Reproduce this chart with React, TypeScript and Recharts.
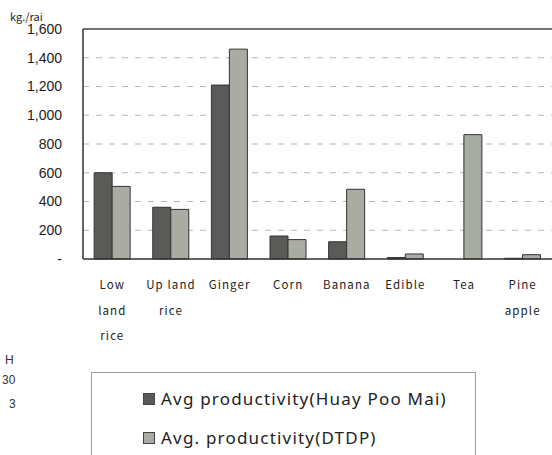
import {
  BarChart,
  Bar,
  XAxis,
  YAxis,
  CartesianGrid,
  ReferenceLine,
} from "recharts";

const crops = ["Low\nland\nrice", "Up land\nrice", "Ginger", "Corn", "Banana", "Edible", "Tea", "Pine\napple"];
const huayPooMai = [600, 360, 1210, 160, 120, 10, 0, 5];
const dtdp = [505, 345, 1460, 135, 485, 35, 865, 30];
const yTicks = [0, 200, 400, 600, 800, 1000, 1200, 1400, 1600];

const seriesNames = ["Avg productivity(Huay Poo Mai)", "Avg. productivity(DTDP)"];
const seriesColors = ["#5a5b58", "#a9aca2"];

const data = crops.map((c, i) => ({ crop: c, hpm: huayPooMai[i], dtdp: dtdp[i] }));

function CropTick(props: any) {
  const { x, y, payload } = props;
  const lines = String(payload.value).split("\n");
  return (
    <text
      x={x}
      y={y}
      textAnchor="middle"
      fill="#222"
      fontSize={11.5}
      fontFamily="'Noto Sans CJK JP', sans-serif"
      letterSpacing={1.1}
    >
      {lines.map((l, i) => (
        <tspan key={i} x={x} dy={i === 0 ? 22 : 25.5}>
          {l}
        </tspan>
      ))}
    </text>
  );
}

function BoxLegend() {
  return (
    <div
      style={{
        position: "absolute",
        left: 91,
        top: 372,
        width: 385,
        height: 90,
        border: "1px solid #a0a0a0",
        boxSizing: "border-box",
        paddingTop: 6,
        paddingLeft: 51,
        fontFamily: "'Noto Sans', sans-serif",
        fontSize: 17,
        letterSpacing: 1.2,
        color: "#222",
      }}
    >
      {seriesNames.map((n, i) => (
        <div key={n} style={{ display: "flex", alignItems: "center", height: 39 }}>
          <span
            style={{
              display: "inline-block",
              width: 12,
              height: 12,
              background: seriesColors[i],
              border: "1px solid #444",
              boxSizing: "border-box",
              marginRight: 6,
            }}
          />
          {n}
        </div>
      ))}
    </div>
  );
}

export default function App() {
  const side = { position: "absolute" as const, fontFamily: "'Liberation Sans', sans-serif", fontSize: 12, color: "#333" };
  return (
    <div style={{ position: "relative", width: 552, height: 455, background: "#fff", overflow: "hidden" }}>
      <style>{"body{margin:0}"}</style>
      <BarChart
        width={552}
        height={455}
        data={data}
        margin={{ top: 29, right: 0, bottom: 106, left: 0 }}
        barCategoryGap="19%"
        barGap={0}
      >
        <CartesianGrid
          vertical={false}
          stroke="#b5b5b5"
          strokeDasharray="6 7"
          horizontalValues={[200, 400, 600, 800, 1000, 1200, 1400]}
        />
        <XAxis
          dataKey="crop"
          height={90}
          tick={<CropTick />}
          tickLine={false}
          axisLine={{ stroke: "#333", strokeWidth: 1.5 }}
          interval={0}
        />
        <YAxis
          width={83}
          domain={[0, 1600]}
          ticks={yTicks}
          interval={0}
          tickFormatter={(v: number) => (v === 0 ? "-" : v.toLocaleString("en-US"))}
          tick={{ fontSize: 14, fill: "#222", fontFamily: "'Liberation Sans', sans-serif" }}
          tickLine={false}
          tickSize={6}
          tickMargin={15}
          axisLine={{ stroke: "#333", strokeWidth: 1.5 }}
        />
        <ReferenceLine y={1600} stroke="#444" strokeWidth={1.5} />
        <Bar dataKey="hpm" name={seriesNames[0]} fill={seriesColors[0]} stroke="#333" strokeWidth={1} isAnimationActive={false} />
        <Bar dataKey="dtdp" name={seriesNames[1]} fill={seriesColors[1]} stroke="#333" strokeWidth={1} isAnimationActive={false} />
      </BarChart>
      <BoxLegend />
      <div style={{ position: "absolute", left: 10, top: 8, fontFamily: "'Noto Sans CJK JP', sans-serif", fontSize: 11, color: "#222" }}>
        kg./rai
      </div>
      <div style={{ ...side, left: 5, top: 353 }}>H</div>
      <div style={{ ...side, left: 2, top: 373 }}>30</div>
      <div style={{ ...side, left: 9, top: 397 }}>3</div>
    </div>
  );
}
